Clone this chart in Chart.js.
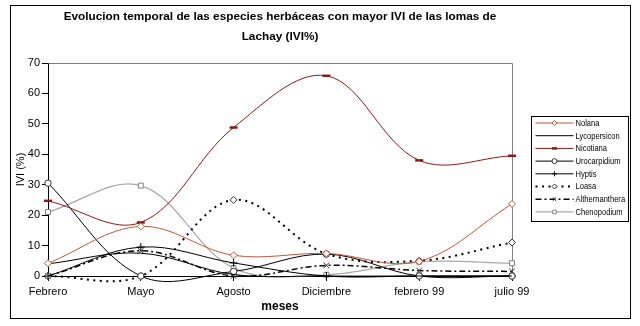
<!DOCTYPE html>
<html><head><meta charset="utf-8">
<script src="https://cdn.jsdelivr.net/npm/chart.js@4.4.1/dist/chart.umd.min.js"></script>
<style>html,body{margin:0;padding:0;background:#fff}#wrap{width:640px;height:326px}</style>
</head><body><div id="wrap"><canvas id="c" width="640" height="326"></canvas></div>
<script>
const months = ['Febrero', 'Mayo', 'Agosto', 'Diciembre', 'febrero 99', 'julio 99'];
const titleLines = ['Evolucion temporal de las especies herbáceas con mayor IVI de las lomas de', 'Lachay (IVI%)'];
const xTitle = 'meses';
const yTitle = 'IVI (%)';
const seriesNames = ['Nolana', 'Lycopersicon', 'Nicotiana', 'Urocarpidium', 'Hyptis', 'Loasa', 'Althernanthera', 'Chenopodium'];
const nolana = [4.2, 16.3, 6.8, 7.4, 4.8, 23.7];
const lycopersicon = [4, 7.5, 0.5, 0, 0, 0];
const nicotiana = [24.7, 17.6, 48.8, 65.8, 38, 39.5];
const urocarpidium = [30.5, 0, 1.5, 7.2, 0, 0];
const hyptis = [0, 9.5, 4.3, 0, 0, 0];
const loasa = [0, 0, 25, 7.3, 5, 11];
const althernanthera = [0, 8.3, 0, 3.5, 1.8, 1.5];
const chenopodium = [21, 29.7, 2.6, 0.4, 4.7, 4.2];
const yMin = 0, yMax = 70, yStep = 10;

const FONT = "'Liberation Sans', Arial, sans-serif";

function ds(label, data, color, opts) {
  return Object.assign({
    label, data,
    borderColor: color, borderWidth: 1,
    pointStyle: false, pointRadius: 0,
    pointBackgroundColor: '#fff', pointBorderColor: color, pointBorderWidth: 1,
    tension: 0.36, clip: false, fill: false
  }, opts || {});
}

const datasets = [
  ds(seriesNames[0], nolana, '#bb5a3e', {pointStyle: 'rectRot', pointRadius: 3.5}),
  ds(seriesNames[1], lycopersicon, '#000'),
  ds(seriesNames[2], nicotiana, '#8b1a1a', {pointStyle: 'line', pointRadius: 4, pointBorderWidth: 2.5}),
  ds(seriesNames[3], urocarpidium, '#000', {pointStyle: 'circle', pointRadius: 3.2, pointBorderColor: '#333'}),
  ds(seriesNames[4], hyptis, '#000', {pointStyle: 'cross', pointRadius: 4}),
  ds(seriesNames[5], loasa, '#000', {borderWidth: 2, borderDash: [2, 4.5], pointStyle: 'rectRot', pointRadius: 3.5, pointBorderColor: '#333'}),
  ds(seriesNames[6], althernanthera, '#000', {borderWidth: 1.5, borderDash: [6, 3, 2, 3], pointStyle: 'crossRot', pointRadius: 4, pointBorderColor: '#333'}),
  ds(seriesNames[7], chenopodium, '#a8a8a8', {borderWidth: 1.2, pointStyle: 'rect', pointRadius: 3.5, pointBorderColor: '#7f7f7f'})
];

const framePlugin = {
  id: 'frame',
  beforeDraw(chart) {
    const ctx = chart.ctx;
    ctx.save();
    ctx.fillStyle = '#fff';
    ctx.fillRect(0, 0, chart.width, chart.height);
    ctx.restore();
  },
  beforeDatasetsDraw(chart) {
    const {ctx, chartArea: a} = chart;
    ctx.save();
    ctx.strokeStyle = '#808080';
    ctx.lineWidth = 1;
    ctx.beginPath();
    ctx.moveTo(Math.round(a.left) + 0.5, Math.round(a.top) + 0.5);
    ctx.lineTo(Math.round(a.right) + 0.5, Math.round(a.top) + 0.5);
    ctx.lineTo(Math.round(a.right) + 0.5, Math.round(a.bottom) + 0.5);
    ctx.stroke();
    ctx.restore();
  },
  afterDraw(chart) {
    const {ctx, chartArea: a} = chart;
    ctx.save();
    // outer border
    ctx.strokeStyle = '#000';
    ctx.lineWidth = 1;
    ctx.strokeRect(10.5, 5.5, 620, 313);
    // legend
    const lx = Math.round(a.right) + 19.5, ly = Math.round(a.top) + 53.5;
    const lw = 97, lh = 105, row = 12.7;
    ctx.fillStyle = '#fff';
    ctx.fillRect(lx, ly, lw, lh);
    ctx.strokeStyle = '#000';
    ctx.strokeRect(lx, ly, lw, lh);
    chart.data.datasets.forEach((d, i) => {
      const y = ly + 6.5 + i * row;
      const x0 = lx + 4, x1 = lx + 42;
      ctx.save();
      ctx.strokeStyle = d.borderColor;
      ctx.lineWidth = d.borderWidth;
      ctx.setLineDash(d.borderDash || []);
      ctx.beginPath();
      ctx.moveTo(x0, y); ctx.lineTo(x1, y);
      ctx.stroke();
      ctx.setLineDash([]);
      if (d.pointStyle) {
        ctx.strokeStyle = d.pointBorderColor;
        ctx.fillStyle = d.pointBackgroundColor;
        ctx.lineWidth = d.pointBorderWidth;
        Chart.helpers.drawPoint(ctx, {pointStyle: d.pointStyle, radius: Math.min(d.pointRadius, 2.5), rotation: 0, borderWidth: d.pointBorderWidth}, (x0 + x1) / 2, y);
      }
      ctx.restore();
      ctx.save();
      ctx.font = '9px ' + FONT;
      ctx.textBaseline = 'middle';
      ctx.textAlign = 'left';
      ctx.fillStyle = '#000';
      ctx.translate(x1 + 2, y + 0.5);
      ctx.scale(0.84, 1);
      ctx.fillText(d.label, 0, 0);
      ctx.restore();
    });
    ctx.restore();
  }
};

new Chart(document.getElementById('c'), {
  type: 'line',
  data: {labels: months, datasets},
  options: {
    responsive: false,
    animation: false,
    devicePixelRatio: 1,
    layout: {padding: {left: 10, right: 128, top: 7, bottom: 8}},
    elements: {line: {capBezierPoints: false}},
    plugins: {
      legend: {display: false},
      tooltip: {enabled: false},
      title: {
        display: true, text: titleLines, fullSize: false, color: '#000',
        font: {family: FONT, size: 11.8, weight: 'bold', lineHeight: 20 / 11.8},
        padding: {top: 0, bottom: 16}
      }
    },
    scales: {
      x: {
        offset: false,
        afterFit: s => { s.height = 42; },
        grid: {drawOnChartArea: false, drawTicks: true, tickLength: 5, tickColor: '#000'},
        border: {display: true, color: '#000', width: 1},
        ticks: {color: '#000', font: {family: FONT, size: 11}, padding: 4, maxRotation: 0, autoSkip: false},
        title: {display: true, text: xTitle, color: '#000', font: {family: FONT, size: 12, weight: 'bold'}, padding: {top: 0, bottom: 4}}
      },
      y: {
        min: yMin, max: yMax,
        afterFit: s => { s.width = 38; },
        grid: {drawOnChartArea: false, drawTicks: true, tickLength: 6, tickColor: '#000'},
        border: {display: true, color: '#000', width: 1},
        ticks: {stepSize: yStep, color: '#000', font: {family: FONT, size: 11}, padding: 2},
        title: {display: true, text: yTitle, color: '#000', font: {family: FONT, size: 11}, padding: {top: 4, bottom: 0}}
      }
    }
  },
  plugins: [framePlugin]
});
</script></body></html>
